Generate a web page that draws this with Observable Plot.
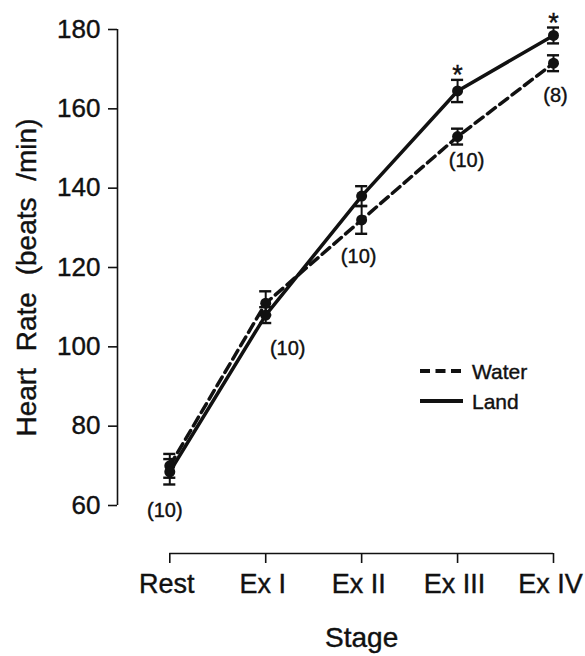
<!DOCTYPE html>
<html>
<head>
<meta charset="utf-8">
<script src="https://cdn.jsdelivr.net/npm/d3@7"></script>
<script src="https://cdn.jsdelivr.net/npm/@observablehq/plot@0.6"></script>
<style>
  body { margin: 0; background: #fff; }
  #chart svg { display: block; }
</style>
</head>
<body>
<div id="chart"></div>
<script>
// Exercise stages on the horizontal axis
const stages = ["Rest", "Ex I", "Ex II", "Ex III", "Ex IV"];

// Mean heart rate (beats/min) and standard error for each condition
const waterMean = [70, 111, 132, 153, 171.5];
const waterSE   = [3, 3, 3.5, 2, 2];
const landMean  = [68.5, 108, 138, 164.5, 178.5];
const landSE    = [3.2, 2, 2.5, 2.8, 2];

// Subjects per stage, and stages where Land differs from Water
const nSubjects   = [10, 10, 10, 10, 8];
const significant = [false, false, false, true, true];

const yTicks = [60, 80, 100, 120, 140, 160, 180];
const yTitle = "Heart Rate (beats /min)";
const xTitle = "Stage";

const water = stages.map((s, i) => ({ i, stage: s, mean: waterMean[i], se: waterSE[i] }));
const land  = stages.map((s, i) => ({ i, stage: s, mean: landMean[i], se: landSE[i] }));
const both  = [...water, ...land];

const counts = stages.map((s, i) => ({
  i,
  label: `(${nSubjects[i]})`,
  low: Math.min(waterMean[i] - waterSE[i], landMean[i] - landSE[i])
}));
const stars = land.filter(d => significant[d.i]);

// Nudges that keep the n-labels clear of the lines
const countNudge = [[-5, 18], [22, 18], [-3, 15], [9, 8], [2, 17]];

const xDomain = [-0.545, 4];
const yDomain = [47.9, 180];
const capHalf = 0.063;
const font = "Liberation Sans, Arial, Helvetica, sans-serif";
const ink = "#111";
const stageTicks = d3.range(stages.length);

const plot = Plot.plot({
  width: 585,
  height: 656,
  marginLeft: 117,
  marginRight: 32,
  marginTop: 29,
  marginBottom: 103,
  style: { fontFamily: font, color: ink, background: "#fff", overflow: "visible" },
  x: { type: "linear", domain: xDomain },
  y: { type: "linear", domain: yDomain },
  marks: [
    // axis lines
    Plot.ruleX([xDomain[0]], { y1: yTicks[0], y2: yTicks[yTicks.length - 1], stroke: ink, strokeWidth: 1.6 }),
    Plot.ruleY([yDomain[0]], { x1: 0, x2: stages.length - 1, stroke: ink, strokeWidth: 1.6 }),
    Plot.axisY({ ticks: yTicks, tickSize: 9, tickPadding: 8, fontSize: 26, strokeWidth: 1.6, label: null }),
    // stage ticks, then stage names set slightly left so "Ex IV" stays inside
    Plot.axisX({ ticks: stageTicks, tickFormat: () => "", tickSize: 10, strokeWidth: 1.6, label: null }),
    Plot.axisX({
      ticks: stageTicks, tickFormat: i => stages[i],
      tickSize: 0, tickPadding: 20, fontSize: 27, dx: -3, label: null
    }),

    // series lines
    Plot.line(water, { x: "i", y: "mean", stroke: ink, strokeWidth: 3.5, strokeDasharray: "10,5.5" }),
    Plot.line(land, { x: "i", y: "mean", stroke: ink, strokeWidth: 3.5 }),

    // standard error bars with caps
    Plot.ruleX(both, { x: "i", y1: d => d.mean - d.se, y2: d => d.mean + d.se, stroke: ink, strokeWidth: 2 }),
    Plot.ruleY(both, { y: d => d.mean - d.se, x1: d => d.i - capHalf, x2: d => d.i + capHalf, stroke: ink, strokeWidth: 2.4 }),
    Plot.ruleY(both, { y: d => d.mean + d.se, x1: d => d.i - capHalf, x2: d => d.i + capHalf, stroke: ink, strokeWidth: 2.4 }),

    // means
    Plot.dot(both, { x: "i", y: "mean", r: 5.5, fill: ink, stroke: "none" }),

    // significance markers
    Plot.text(stars, { x: "i", y: d => d.mean + d.se, text: () => "*", fontSize: 27, lineAnchor: "top", dy: -15, fill: ink }),

    // subject counts
    ...counts.map(d => Plot.text([d], {
      x: "i", y: "low", text: "label", fontSize: 20, lineAnchor: "top",
      dx: countNudge[d.i][0], dy: countNudge[d.i][1], fill: ink
    })),

    // axis titles
    Plot.text([{ label: xTitle, i: 2 }], { x: "i", text: "label", frameAnchor: "bottom", lineAnchor: "top", dy: 74, fontSize: 28, fill: ink }),
    Plot.text([yTitle], { frameAnchor: "left", textAnchor: "middle", rotate: -90, dx: -90, dy: -14, fontSize: 28, fill: ink })
  ]
});

const svg = d3.select(plot);

// wider gaps between the words of the vertical title
svg.selectAll("text").filter(function () { return this.textContent === yTitle; })
  .style("word-spacing", "9px");

// legend
const legend = svg.append("g")
  .attr("font-family", font).attr("font-size", 21).attr("fill", ink).attr("text-anchor", "start");
const entries = [
  { name: "Water", dash: "10,5.5", y: 371 },
  { name: "Land", dash: null, y: 401 }
];
entries.forEach(e => {
  legend.append("line")
    .attr("x1", 420).attr("x2", 463).attr("y1", e.y).attr("y2", e.y)
    .attr("stroke", ink).attr("stroke-width", 4)
    .attr("stroke-dasharray", e.dash);
  legend.append("text")
    .attr("x", 472).attr("y", e.y).attr("dy", "0.36em")
    .text(e.name);
});

// slightly heavier lettering, like the printed figure
svg.selectAll("text").attr("stroke", ink).attr("stroke-width", 0.4);

document.getElementById("chart").appendChild(plot);
</script>
</body>
</html>
